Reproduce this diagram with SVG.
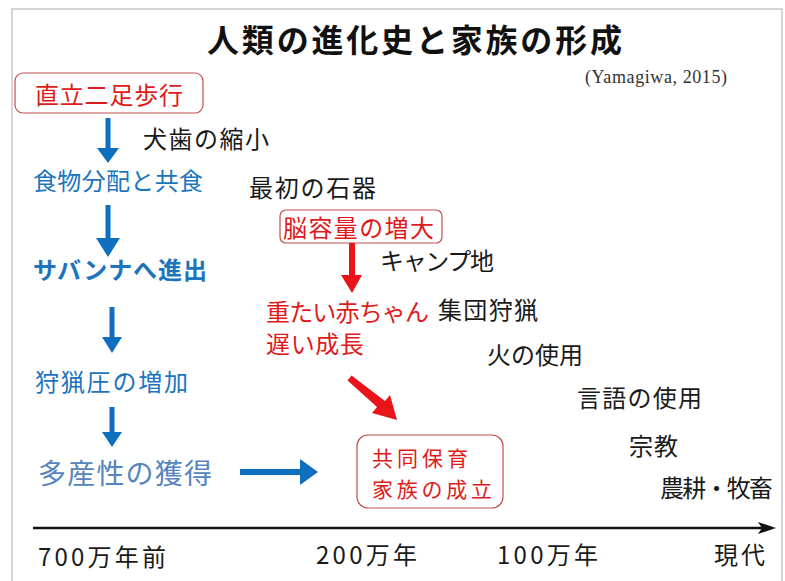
<svg xmlns="http://www.w3.org/2000/svg" width="785" height="581" viewBox="0 0 785 581">
<style>
text{font-family:"Noto Sans CJK JP","Noto Sans",sans-serif;font-size:24px}
.blk{fill:#1a1a1a}
.blu{fill:#1c74be}
.lblu{fill:#5584c0;font-size:28px}
.red{fill:#e01a1a}
.box{fill:#fff;stroke:#c0504d;stroke-width:1.2}
.ba{fill:#0e6fbf}
.ra{fill:#e8141a}
.ttl{font-size:32px;font-weight:bold;fill:#111}
.fam{font-size:21px}
</style>
<rect x="0" y="0" width="785" height="581" fill="#fff"/>
<path d="M12,590 V9 H782 V590" fill="none" stroke="#c8c8c8" stroke-width="1.5"/>
<g id="title"><text class="ttl" x="207" y="52" textLength="415">人類の進化史と家族の形成</text></g>
<g id="cite"><text x="585" y="83" style="font-family:'Liberation Serif',serif;font-size:18px" fill="#333" textLength="142">(Yamagiwa, 2015)</text></g>

<g id="n-bipedal"><rect class="box" x="15" y="73" width="188" height="40" rx="8"/><text class="red" x="35" y="104" textLength="148">直立二足歩行</text></g>
<g id="n-canine"><text class="blk" x="143" y="148" textLength="126">犬歯の縮小</text></g>
<g id="n-food"><text class="blu" x="33" y="190" textLength="170">食物分配と共食</text></g>
<g id="n-stone"><text class="blk" x="249" y="197" textLength="127">最初の石器</text></g>
<g id="n-brain"><rect class="box" x="280" y="210" width="162" height="33" rx="6"/><text class="red" x="283" y="237" textLength="151">脳容量の増大</text></g>
<g id="n-camp"><text class="blk" x="380" y="270" textLength="114">キャンプ地</text></g>
<g id="n-savanna"><text class="blu" x="33" y="279" font-weight="bold" textLength="174">サバンナへ進出</text></g>
<g id="n-baby"><text class="red" x="266" y="321" textLength="163">重たい赤ちゃん</text><text class="red" x="266" y="353" textLength="98">遅い成長</text></g>
<g id="n-grouphunt"><text class="blk" x="438" y="319" textLength="100">集団狩猟</text></g>
<g id="n-fire"><text class="blk" x="487" y="364" textLength="96">火の使用</text></g>
<g id="n-hunt"><text class="blu" x="35" y="391" textLength="153">狩猟圧の増加</text></g>
<g id="n-lang"><text class="blk" x="577" y="407" textLength="125">言語の使用</text></g>
<g id="n-religion"><text class="blk" x="629" y="455" textLength="49">宗教</text></g>
<g id="n-fert"><text class="lblu" x="38" y="484" textLength="174">多産性の獲得</text></g>
<g id="n-family"><rect class="box" x="357" y="435" width="146" height="73" rx="11"/><text class="red fam" x="372" y="466" textLength="96">共同保育</text><text class="red fam" x="372" y="497" textLength="120">家族の成立</text></g>
<g id="n-agri"><text class="blk" x="660" y="497" textLength="113">農耕・牧畜</text></g>

<g id="connectors">
<path class="ba" d="M105.5,118 H110.5 V148 H119 L108,163 L97,148 H105.5 Z"/>
<path class="ba" d="M105.5,205 H110.5 V238 H120 L108,257 L96,238 H105.5 Z"/>
<path class="ba" d="M109.5,307 H114.5 V337 H122 L112,353 L102,337 H109.5 Z"/>
<path class="ba" d="M109.5,407 H114.5 V432 H122 L112,447 L102,432 H109.5 Z"/>
<path class="ba" d="M240,469 H300 V459 L318,472 L300,485 V475 H240 Z"/>
<path class="ra" d="M349,243 H355 V275 H362 L352,293 L341,275 H349 Z"/>
<path class="ra" d="M347.5,380.5 L351.5,375.5 L385,401 L390,395 L397,420 L372,413 L377,407 Z"/>
<line x1="33" y1="528" x2="764" y2="528" stroke="#111" stroke-width="2.5"/>
<path d="M758,522 L776,528 L758,534 L762,528 Z" fill="#111"/>
</g>

<g id="axis-labels">
<text class="blk" x="38" y="566" textLength="128">700万年前</text>
<text class="blk" x="316" y="564" textLength="101">200万年</text>
<text class="blk" x="497" y="564" textLength="101">100万年</text>
<text class="blk" x="714" y="564" textLength="51">現代</text>
</g>
</svg>
